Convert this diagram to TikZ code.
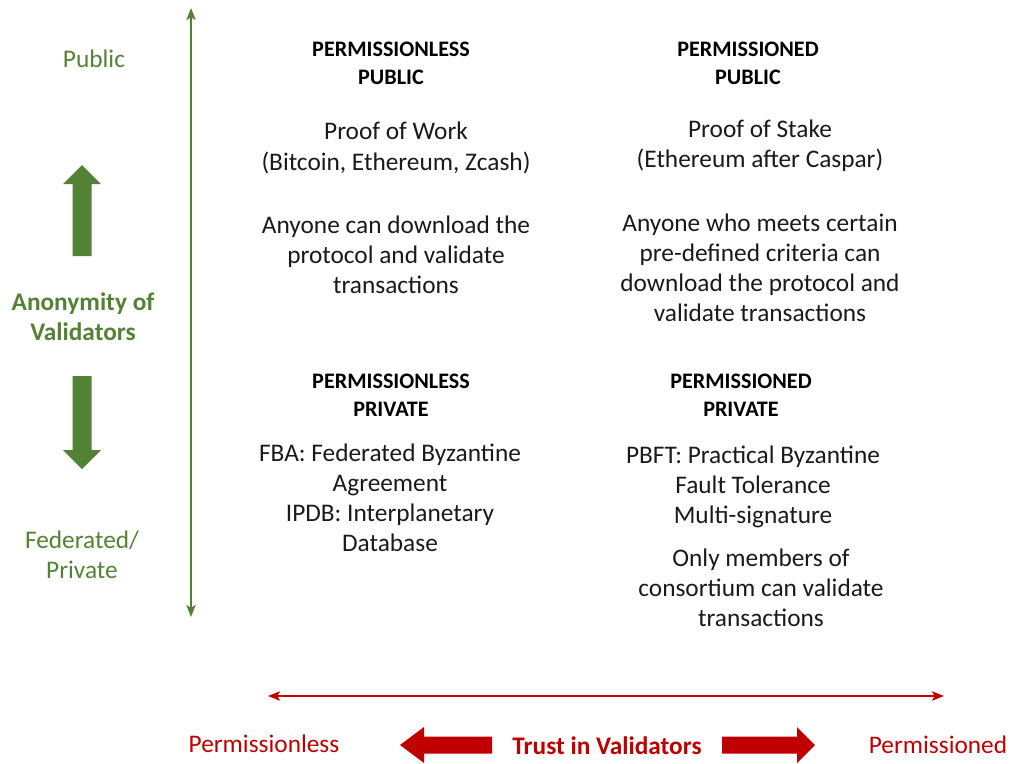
\documentclass[tikz,border=0pt]{standalone}
\usepackage{fontspec}
\setmainfont{Carlito}
\usetikzlibrary{arrows.meta}
\definecolor{grn}{HTML}{548235}
\definecolor{rd}{HTML}{C00000}
\definecolor{ink}{HTML}{1A1A1A}
\begin{document}
\begin{tikzpicture}[x=0.75pt,y=-0.75pt,
  hdr/.style={font=\bfseries\fontsize{16.6}{21}\selectfont, align=center, inner sep=0pt, text=black},
  body/.style={font=\fontsize{19}{22.6}\selectfont, align=center, inner sep=0pt, text=ink},
  glab/.style={font=\fontsize{19}{22.6}\selectfont, align=center, inner sep=0pt, text=grn},
  gbold/.style={font=\bfseries\fontsize{19}{22.6}\selectfont, align=center, inner sep=0pt, text=grn},
  rlab/.style={font=\fontsize{19}{22.6}\selectfont, align=center, inner sep=0pt, text=rd},
  rbold/.style={font=\bfseries\fontsize{19}{22.6}\selectfont, align=center, inner sep=0pt, text=rd},
  axisg/.style={draw=grn, line width=1.3pt, {Stealth[length=9pt,width=7pt,inset=2pt]}-{Stealth[length=9pt,width=7pt,inset=2pt]}},
  axisr/.style={draw=rd, line width=1.3pt, {Stealth[length=9pt,width=7pt,inset=2pt]}-{Stealth[length=9pt,width=7pt,inset=2pt]}},
  blockg/.style={fill=grn, draw=none},
  blockr/.style={fill=rd, draw=none}]
\useasboundingbox (0,0) rectangle (1015,764);

% vertical axis
\coordinate (vtop) at (191,8);
\coordinate (vbot) at (191,617);
\draw[axisg] (vtop) -- (vbot);

% horizontal axis
\coordinate (hl) at (268,696);
\coordinate (hr) at (944,696);
\draw[axisr] (hl) -- (hr);

% left labels
\node[glab] (pub) at (94,59) {Public};
\node[gbold] (anon) at (83,317) {Anonymity of\\Validators};
\node[glab] (fed) at (82,555) {Federated/\\Private};

% green block arrows
\fill[blockg] (82,165) -- (101,184) -- (91.5,184) -- (91.5,256) -- (72.5,256) -- (72.5,184) -- (63,184) -- cycle;
\fill[blockg] (72.5,376) -- (91.5,376) -- (91.5,450) -- (101,450) -- (82,469) -- (63,450) -- (72.5,450) -- cycle;

% bottom labels
\node[rlab] (pl) at (264,744) {Permissionless};
\node[rlab] (pd) at (938,745) {Permissioned};
\node[rbold] (trust) at (607,746) {Trust in Validators};

% red block arrows
\fill[blockr] (400,745) -- (424,727) -- (424,736.5) -- (492,736.5) -- (492,753.5) -- (424,753.5) -- (424,763) -- cycle;
\fill[blockr] (722,736.5) -- (797,736.5) -- (797,727) -- (815,745) -- (797,763) -- (797,753.5) -- (722,753.5) -- cycle;

% top-left quadrant
\node[hdr] (h1) at (391,63) {PERMISSIONLESS\\PUBLIC};
\node[body] (t1a) at (396,148) {Proof of Work\\(Bitcoin, Ethereum, Zcash)};
\node[body] (t1b) at (396,255) {Anyone can download the\\protocol and validate\\transactions};

% top-right quadrant
\node[hdr] (h2) at (748,63) {PERMISSIONED\\PUBLIC};
\node[body] (t2a) at (760,146) {Proof of Stake\\(Ethereum after Caspar)};
\node[body] (t2b) at (760,268) {Anyone who meets certain\\pre-defined criteria can\\download the protocol and\\validate transactions};

% bottom-left quadrant
\node[hdr] (h3) at (391,395) {PERMISSIONLESS\\PRIVATE};
\node[body] (t3a) at (390,498) {FBA: Federated Byzantine\\Agreement\\IPDB: Interplanetary\\Database};

% bottom-right quadrant
\node[hdr] (h4) at (741,395) {PERMISSIONED\\PRIVATE};
\node[body] (t4a) at (753,487) {PBFT: Practical Byzantine\\Fault Tolerance\\Multi-signature};
\node[body] (t4b) at (761,588) {Only members of\\consortium can validate\\transactions};
\end{tikzpicture}
\end{document}
